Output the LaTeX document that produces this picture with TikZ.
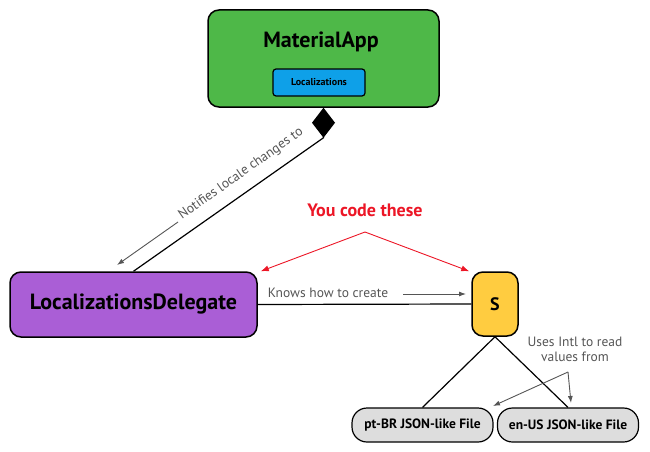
\documentclass[tikz,border=0pt]{standalone}
\usepackage{fontspec}
\setmainfont{PT Sans}
\usetikzlibrary{arrows.meta}
\definecolor{appgreen}{RGB}{78,184,72}
\definecolor{locblue}{RGB}{14,160,232}
\definecolor{delpurple}{RGB}{170,94,214}
\definecolor{syellow}{RGB}{255,204,64}
\definecolor{filegray}{RGB}{221,221,221}
\definecolor{notegray}{RGB}{85,85,85}
\definecolor{codered}{RGB}{236,22,38}
\begin{document}
\begin{tikzpicture}[x=1pt,y=-1pt,line width=1.2pt]

	\useasboundingbox (0,0) rectangle (650,452);
	\tikzstyle{box}=[draw=black,line width=1.5pt,rounded corners=11pt,inner sep=0pt]
	\tikzstyle{filebox}=[draw=black,line width=1.2pt,rounded corners=15pt,fill=filegray,inner sep=0pt,minimum width=141pt,minimum height=34pt,font=\bfseries\fontsize{13.5}{15}\selectfont]
	\tikzstyle{note}=[text=notegray,font=\fontsize{13.5}{15}\selectfont,inner sep=1pt]
	\tikzstyle{notearrow}=[draw=notegray,line width=0.9pt,-{Latex[length=7pt,width=5pt]}]
	\tikzstyle{redarrow}=[draw=codered,line width=0.9pt,-{Latex[length=8pt,width=6pt]}]

	% MaterialApp
	\node[box,fill=appgreen,minimum width=231pt,minimum height=97pt] (materialapp) at (323.5,58.5) {};
	\node[font=\bfseries\fontsize{22}{26}\selectfont] (apptitle) at (321,42) {MaterialApp};
	\node[box,line width=1.2pt,rounded corners=3pt,fill=locblue,minimum width=92pt,minimum height=27pt,font=\bfseries\fontsize{10}{12}\selectfont] (localizations) at (319,82.5) {Localizations};

	% delegate and S
	\node[box,fill=delpurple,minimum width=247pt,minimum height=65pt,font=\bfseries\fontsize{22}{26}\selectfont] (delegate) at (133.5,304.5) {LocalizationsDelegate};
	\node[box,fill=syellow,minimum width=46pt,minimum height=64pt,font=\bfseries\fontsize{18}{22}\selectfont] (sclass) at (495,304) {S};

	% files
	\node[filebox] (ptbr) at (422.5,425) {pt-BR JSON-like File};
	\node[filebox] (enus) at (568,425) {en-US JSON-like File};

	% labels
	\node[text=codered,font=\bfseries\fontsize{18}{22}\selectfont] (youcode) at (365,210) {You code these};
	\node[note,rotate=35.2] (notifies) at (241,174) {Notifies locale changes to};
	\node[note] (knows) at (328,293) {Knows how to create};
	\node[note,align=center] (usesintl) at (575,349) {Uses Intl to read\\values from};

	\coordinate (notestart) at (178,222);
	\coordinate (noteend) at (117,265);
	\coordinate (knowsstart) at (403,294);
	\coordinate (knowsend) at (466,294);
	\coordinate (redfork) at (365,232);
	\coordinate (intlfork) at (568,372);
	\coordinate (intlleft) at (493,406);
	\coordinate (intlright) at (571,403);

	% connectors
	\draw[{Diamond[length=30pt,width=23pt]}-] (materialapp.south) -- ++(0,30) -- (delegate.north);
	\draw (delegate.east) -- (sclass.west);
	\draw (sclass.south) -- (ptbr.north);
	\draw (sclass.south) -- (enus.north);

	\draw[notearrow] (notestart) -- (noteend);
	\draw[notearrow] (knowsstart) -- (knowsend);
	\draw[notearrow] (intlfork) -- (intlleft);
	\draw[notearrow] (intlfork) -- (intlright);

	\draw[redarrow] (redfork) -- ([shift={(3,0)}]delegate.north east);
	\draw[redarrow] (redfork) -- ([shift={(-2,0)}]sclass.north west);
\end{tikzpicture}
\end{document}
